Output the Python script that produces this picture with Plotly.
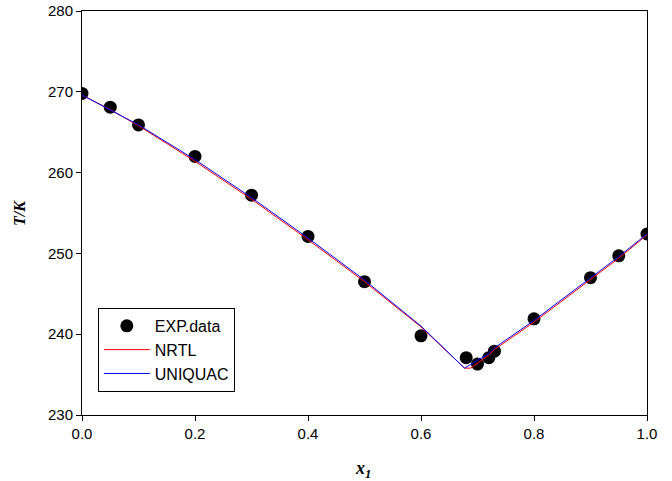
import plotly.graph_objects as go

# Experimental data
x_exp = [0.0, 0.05, 0.10, 0.20, 0.30, 0.40, 0.50, 0.60, 0.68, 0.70, 0.72, 0.73, 0.80, 0.90, 0.95, 1.00]
T_exp = [269.8, 268.1, 265.9, 262.0, 257.2, 252.1, 246.5, 239.8, 237.1, 236.3, 237.1, 237.9, 241.9, 247.0, 249.7, 252.4]

# NRTL model
x_nrtl = [0.0, 0.05, 0.10, 0.20, 0.30, 0.40, 0.50, 0.60, 0.677, 0.688, 0.72, 0.73, 0.80, 0.90, 0.95, 1.00]
T_nrtl = [269.6, 267.8, 265.8, 261.4, 256.7, 251.7, 246.5, 240.9, 235.8, 235.8, 237.4, 238.1, 241.5, 246.7, 249.4, 252.3]

# UNIQUAC model
x_uniq = [0.0, 0.05, 0.10, 0.20, 0.30, 0.40, 0.50, 0.60, 0.677, 0.72, 0.73, 0.80, 0.90, 0.95, 1.00]
T_uniq = [269.6, 267.8, 265.9, 261.6, 256.9, 251.9, 246.7, 241.0, 235.8, 237.6, 238.3, 241.7, 246.9, 249.6, 252.4]

y_ticks = [230, 240, 250, 260, 270, 280]
x_ticks = [0.0, 0.2, 0.4, 0.6, 0.8, 1.0]

fig = go.Figure()
fig.add_trace(go.Scatter(x=x_exp, y=T_exp, mode="markers", name="EXP.data",
                         marker=dict(color="black", size=13)))
fig.add_trace(go.Scatter(x=x_nrtl, y=T_nrtl, mode="lines", name="NRTL",
                         line=dict(color="#ff0000", width=1)))
fig.add_trace(go.Scatter(x=x_uniq, y=T_uniq, mode="lines", name="UNIQUAC",
                         line=dict(color="#0000ff", width=1)))

axis_common = dict(showgrid=False, zeroline=False, showline=True, linecolor="black",
                   linewidth=1, mirror=True, ticks="outside", ticklen=5,
                   tickcolor="black", automargin=False,
                   tickfont=dict(family="Liberation Sans, Arial", size=15, color="black"))

fig.update_layout(
    width=672, height=481,
    margin=dict(l=82, r=25, t=11, b=66),
    plot_bgcolor="white", paper_bgcolor="white",
    showlegend=True,
    legend=dict(x=0.028, y=0.265, xanchor="left", yanchor="top",
                bordercolor="black", borderwidth=1, bgcolor="white",
                font=dict(family="Liberation Sans, Arial", size=16, color="black"),
                tracegroupgap=0, itemwidth=46),
    xaxis=dict(range=[0, 1], tickvals=x_ticks, ticktext=[f"{v:.1f}" for v in x_ticks],
               **axis_common),
    yaxis=dict(range=[230, 280], tickvals=y_ticks, **axis_common),
    annotations=[
        dict(text="<b><i>x<sub>1</sub></i></b>", xref="paper", yref="paper",
             x=(363 - 82) / 565, y=-(469 - 415) / 404, xanchor="center", yanchor="middle",
             showarrow=False,
             font=dict(family="Liberation Serif, Times New Roman", size=18, color="black")),
        dict(text="<b><i>T/K</i></b>", xref="paper", yref="paper",
             x=-(82 - 19) / 565, y=0.5, xanchor="center", yanchor="middle",
             textangle=-90, showarrow=False,
             font=dict(family="Liberation Serif, Times New Roman", size=16, color="black")),
    ],
)

fig.write_html("out.html", config={"displayModeBar": False},
               post_script="document.body.style.margin='0';document.body.style.overflow='hidden';")
